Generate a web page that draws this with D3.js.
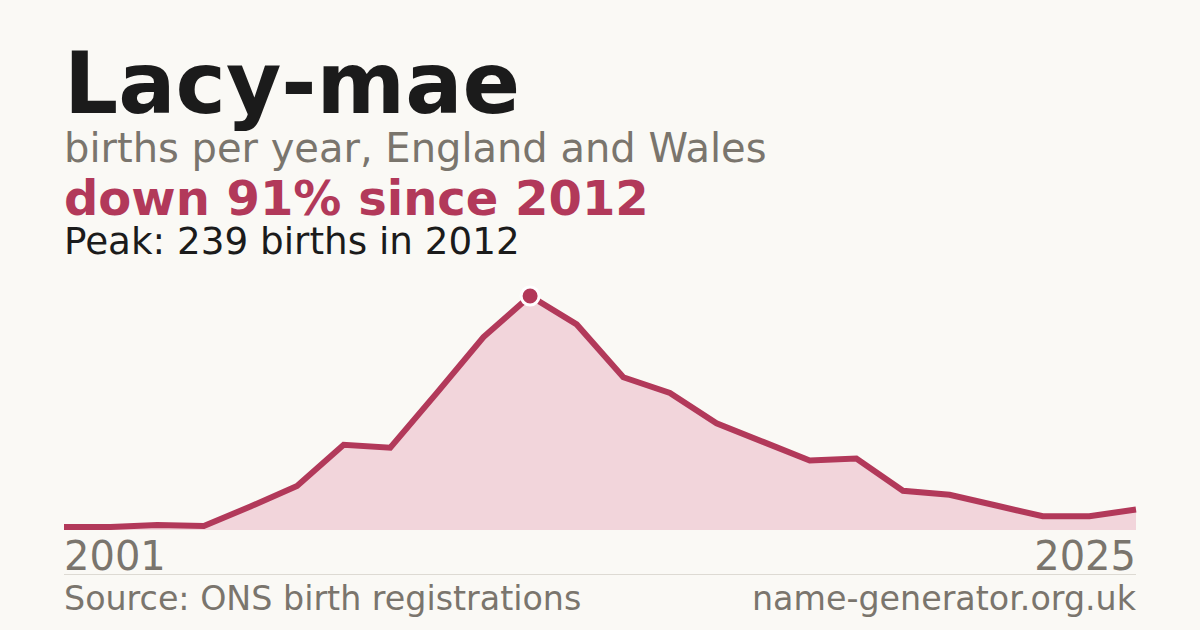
<!DOCTYPE html>
<html>
<head>
<meta charset="utf-8">
<script src="https://cdn.jsdelivr.net/npm/d3@7"></script>
<style>
  html, body { margin: 0; padding: 0; background: #faf9f5; }
  svg { display: block; font-family: "DejaVu Sans", sans-serif; }
</style>
</head>
<body>
<svg id="chart" width="1200" height="630"></svg>
<script>
const years = [2001, 2003, 2004, 2005, 2006, 2007, 2008, 2009, 2010, 2011, 2012,
               2013, 2014, 2015, 2016, 2017, 2018, 2019, 2020, 2021, 2022, 2023, 2024, 2025];
const births = [3, 3, 5, 4, 24, 45, 87, 84, 140, 197, 239,
                210, 156, 140, 109, 90, 71, 73, 40, 36, 25, 14, 14, 21];
const titleText = "Lacy-mae";
const subtitleText = "births per year, England and Wales";
const changeText = "down 91% since 2012";
const peakText = "Peak: 239 births in 2012";
const axisLabels = ["2001", "2025"];
const sourceText = "Source: ONS birth registrations";
const siteText = "name-generator.org.uk";

const W = 1200, H = 630;
const plotLeft = 64, plotRight = 1136, plotBase = 530, plotTop = 296;
const red = "#b2395a", fillCol = "#f2d5db", grey = "#7a756d", dark = "#1b1b1b";

const svg = d3.select("#chart");
svg.append("rect").attr("width", W).attr("height", H).attr("fill", "#faf9f5");

const x = d3.scalePoint().domain(years).range([plotLeft, plotRight]);
const y = d3.scaleLinear().domain([0, d3.max(births)]).range([plotBase, plotTop]);
const data = years.map((yr, i) => ({ yr, v: births[i] }));

svg.append("path").datum(data)
  .attr("d", d3.area().x(d => x(d.yr)).y0(plotBase).y1(d => y(d.v)))
  .attr("fill", fillCol);

svg.append("path").datum(data)
  .attr("d", d3.line().x(d => x(d.yr)).y(d => y(d.v)))
  .attr("fill", "none").attr("stroke", red).attr("stroke-width", 6)
  .attr("stroke-linejoin", "miter").attr("stroke-linecap", "butt");

const peakIdx = births.indexOf(d3.max(births));
svg.append("circle")
  .attr("cx", x(years[peakIdx])).attr("cy", y(births[peakIdx]))
  .attr("r", 9).attr("fill", red).attr("stroke", "#ffffff").attr("stroke-width", 3);

// Titles
svg.append("text").attr("x", plotLeft).attr("y", 113).text(titleText)
  .attr("font-size", 85).attr("font-weight", "bold").attr("fill", dark);
svg.append("text").attr("x", plotLeft).attr("y", 162).text(subtitleText)
  .attr("font-size", 40).attr("fill", grey);
svg.append("text").attr("x", plotLeft).attr("y", 215).text(changeText)
  .attr("font-size", 48).attr("font-weight", "bold").attr("fill", red);
svg.append("text").attr("x", plotLeft).attr("y", 254).text(peakText)
  .attr("font-size", 37.3).attr("fill", dark);

// Axis labels
svg.append("text").attr("x", plotLeft).attr("y", 570).text(axisLabels[0])
  .attr("font-size", 40).attr("fill", grey);
svg.append("text").attr("x", plotRight).attr("y", 570).text(axisLabels[1])
  .attr("font-size", 40).attr("fill", grey).attr("text-anchor", "end");

// Divider
svg.append("line").attr("x1", plotLeft).attr("x2", plotRight).attr("y1", 574.5).attr("y2", 574.5)
  .attr("stroke", "#dddad3").attr("stroke-width", 1);

// Footer
svg.append("text").attr("x", plotLeft).attr("y", 610).text(sourceText)
  .attr("font-size", 33.3).attr("fill", grey);
svg.append("text").attr("x", plotRight).attr("y", 610).text(siteText)
  .attr("font-size", 33.3).attr("fill", grey).attr("text-anchor", "end");
</script>
</body>
</html>
